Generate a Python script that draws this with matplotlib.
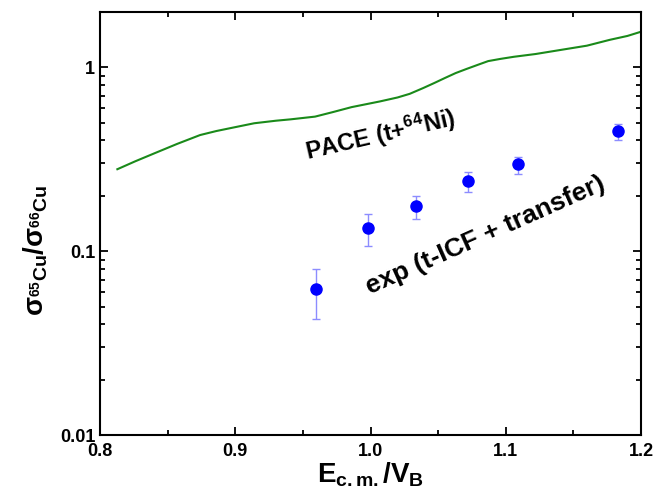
import matplotlib
matplotlib.use("Agg")
import matplotlib.pyplot as plt
from matplotlib.ticker import MultipleLocator, LogLocator, FixedLocator, NullFormatter

plt.rcParams['font.family'] = 'Liberation Sans'
plt.rcParams['font.weight'] = 'bold'
plt.rcParams['font.style'] = 'normal'
plt.rcParams['mathtext.fontset'] = 'custom'
plt.rcParams['mathtext.rm'] = 'Liberation Sans:weight=bold'
plt.rcParams['mathtext.it'] = 'Liberation Sans:weight=bold'
plt.rcParams['mathtext.bf'] = 'Liberation Sans:weight=bold'
plt.rcParams['mathtext.default'] = 'rm'

# PACE calculation (t + 64Ni)
pace_x = [0.8128, 0.826, 0.840, 0.857, 0.874, 0.886, 0.896, 0.914, 0.930,
          0.941, 0.959, 0.972, 0.986, 1.007, 1.020, 1.029, 1.039, 1.047,
          1.055, 1.063, 1.071, 1.080, 1.087, 1.096, 1.106, 1.122, 1.140,
          1.160, 1.177, 1.190, 1.2]
pace_y = [0.279, 0.308, 0.340, 0.383, 0.428, 0.450, 0.466, 0.496, 0.512,
          0.521, 0.539, 0.570, 0.607, 0.652, 0.685, 0.717, 0.771, 0.820,
          0.874, 0.930, 0.979, 1.035, 1.08, 1.11, 1.14, 1.18, 1.24,
          1.31, 1.41, 1.48, 1.56]

# experimental ratio
exp_x = [0.960, 0.998, 1.034, 1.072, 1.109, 1.183]
exp_y = [0.062, 0.134, 0.175, 0.240, 0.296, 0.448]
err_lo = [0.043, 0.107, 0.149, 0.210, 0.263, 0.400]
err_hi = [0.080, 0.160, 0.199, 0.268, 0.326, 0.492]

yerr = [[y - lo for y, lo in zip(exp_y, err_lo)],
        [hi - y for y, hi in zip(exp_y, err_hi)]]

fig = plt.figure(figsize=(6.67, 4.95), dpi=100)
ax = fig.add_axes([0.150, 0.121, 0.811, 0.855])

ax.plot(pace_x, pace_y, color='#1a8a1a', lw=1.5)
ax.errorbar(exp_x, exp_y, yerr=yerr, fmt='o', color='#0000ff', ms=8,
            ecolor='#8c8cff', elinewidth=1, capsize=3, capthick=1)

ax.set_yscale('log')
ax.set_xlim(0.8, 1.2)
ax.set_ylim(0.01, 2)

ax.xaxis.set_major_locator(MultipleLocator(0.1))
ax.xaxis.set_minor_locator(MultipleLocator(0.05))
ax.yaxis.set_major_locator(FixedLocator([0.01, 0.1, 1]))
ax.yaxis.set_minor_locator(LogLocator(base=10, subs=range(2, 10)))
ax.yaxis.set_minor_formatter(NullFormatter())
ax.set_yticks([0.01, 0.1, 1])
ax.set_yticklabels(['0.01', '0.1', '1'], fontweight='bold', fontsize=13)
ax.set_xticks([0.8, 0.9, 1.0, 1.1, 1.2])
ax.set_xticklabels(['0.8', '0.9', '1.0', '1.1', '1.2'], fontweight='bold', fontsize=13)

ax.tick_params(which='both', direction='in', top=True, right=True, width=1.3)
ax.tick_params(which='major', length=6)
ax.tick_params(which='minor', length=3.5)
ax.tick_params(axis='x', pad=6)
for s in ax.spines.values():
    s.set_linewidth(1.5)

ax.set_xlabel(r'E$_{\mathrm{c.m.}}$/V$_\mathrm{B}$', fontsize=20, fontweight='bold', labelpad=0)
ax.set_ylabel(r'σ$_{^{65}\mathrm{Cu}}$/σ$_{^{66}\mathrm{Cu}}$', fontsize=20,
              fontweight='bold')
ax.yaxis.set_label_coords(-0.092, 0.437)

ax.text(1.007, 0.43, r'PACE (t+$^{64}$Ni)', fontsize=17, fontweight='bold',
        fontstyle='normal', rotation=13, ha='center', va='center')
ax.text(1.085, 0.122, 'exp (t-ICF + transfer)', fontsize=19, fontweight='bold',
        fontstyle='normal', rotation=24, ha='center', va='center')

fig.savefig('out.png', dpi=100)
